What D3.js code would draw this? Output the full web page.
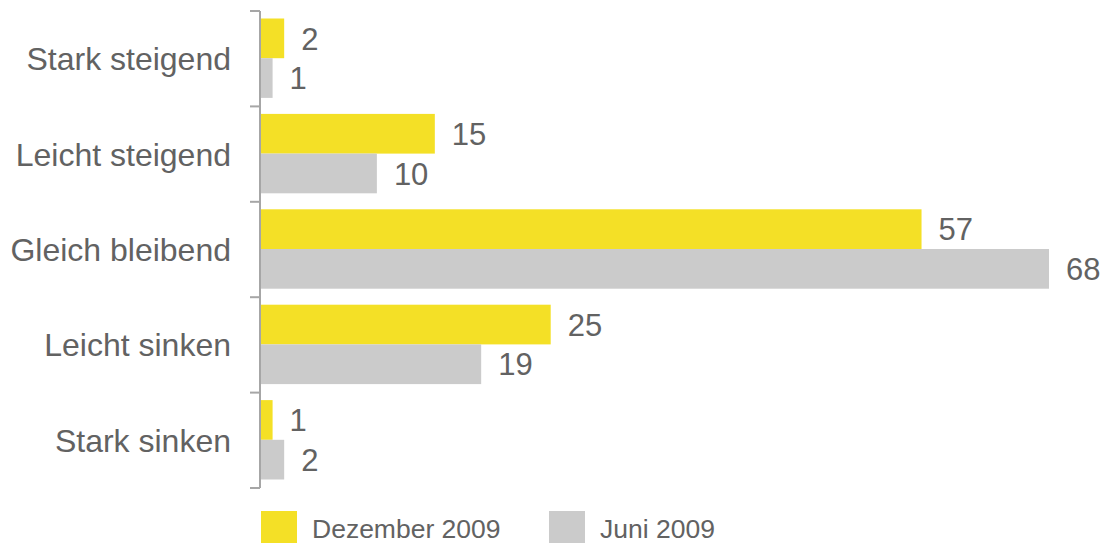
<!DOCTYPE html>
<html>
<head>
<meta charset="utf-8">
<script src="https://cdn.jsdelivr.net/npm/d3@7"></script>
<style>
  html, body { margin: 0; padding: 0; background: #fff; }
  svg { display: block; font-family: "Liberation Sans", Arial, sans-serif; }
</style>
</head>
<body>
<svg id="chart" width="1102" height="543"></svg>
<script>
const categories = ["Stark steigend", "Leicht steigend", "Gleich bleibend", "Leicht sinken", "Stark sinken"];
const seriesNames = ["Dezember 2009", "Juni 2009"];
const dezember = [2, 15, 57, 25, 1];
const juni = [1, 10, 68, 19, 2];
const colors = ["#f4e026", "#cbcbcb"];

const textColor = "#626262";
const svg = d3.select("#chart");

const x = d3.scaleLinear().domain([0, 68]).range([261, 1049]);
const y = d3.scaleBand().domain(categories).range([11, 488]);
const inner = d3.scaleBand().domain(seriesNames).range([7.5, y.bandwidth() - 8.5]);

const rows = categories.map((c, i) => ({ cat: c, values: [dezember[i], juni[i]] }));

const groups = svg.append("g")
  .selectAll("g")
  .data(rows)
  .join("g")
  .attr("transform", d => `translate(0,${y(d.cat)})`);

groups.selectAll("rect")
  .data(d => d.values.map((v, k) => ({ v, k })))
  .join("rect")
  .attr("x", x(0))
  .attr("y", d => inner(seriesNames[d.k]))
  .attr("width", d => x(d.v) - x(0))
  .attr("height", inner.bandwidth())
  .attr("fill", d => colors[d.k]);

groups.selectAll("text.val")
  .data(d => d.values.map((v, k) => ({ v, k })))
  .join("text")
  .attr("class", "val")
  .attr("x", d => x(d.v) + 17)
  .attr("y", d => inner(seriesNames[d.k]) + inner.bandwidth() / 2)
  .attr("dy", "0.36em")
  .attr("font-size", 31)
  .attr("fill", textColor)
  .text(d => d.v);

// category axis
const axis = svg.append("g").attr("transform", `translate(${x(0) - 1},0)`);
axis.append("line")
  .attr("y1", y.range()[0]).attr("y2", y.range()[1])
  .attr("stroke", "#a6a6a6").attr("stroke-width", 2);
const tickPos = categories.map(c => y(c)).concat([y.range()[1]]);
axis.selectAll("line.tick")
  .data(tickPos)
  .join("line")
  .attr("class", "tick")
  .attr("x1", -10).attr("x2", 0)
  .attr("y1", d => d).attr("y2", d => d)
  .attr("stroke", "#a6a6a6").attr("stroke-width", 2);

svg.append("g")
  .selectAll("text")
  .data(categories)
  .join("text")
  .attr("x", 231)
  .attr("y", d => y(d) + y.bandwidth() / 2)
  .attr("dy", "0.36em")
  .attr("text-anchor", "end")
  .attr("font-size", 32)
  .attr("fill", textColor)
  .text(d => d);

// legend
const legendX = [261, 549];
const legend = svg.append("g")
  .selectAll("g")
  .data(seriesNames)
  .join("g")
  .attr("transform", (d, i) => `translate(${legendX[i]},511)`);
legend.append("rect")
  .attr("width", 36).attr("height", 32)
  .attr("fill", (d, i) => colors[i]);
legend.append("text")
  .attr("x", 51).attr("y", 17)
  .attr("dy", "0.36em")
  .attr("font-size", 26.5)
  .attr("fill", textColor)
  .text(d => d);
</script>
</body>
</html>
